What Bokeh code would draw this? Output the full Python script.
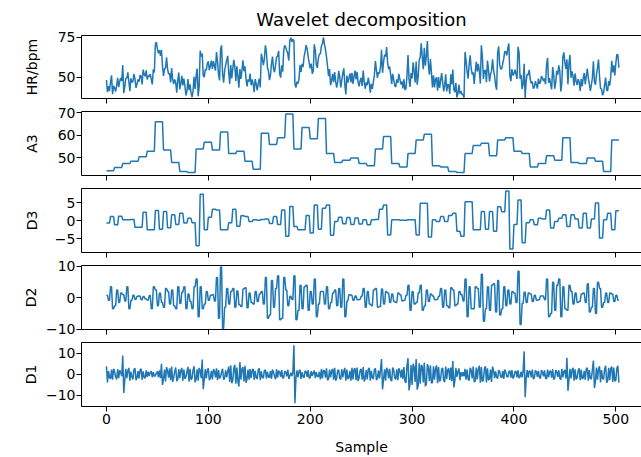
import numpy as np
from bokeh.plotting import figure
from bokeh.layouts import column
from bokeh.models import Range1d, FixedTicker, LinearAxis, CustomLabelingPolicy
from bokeh.embed import file_html
from bokeh.resources import INLINE

# ---------------- data ----------------
# level-3 approximation: one level per 8-sample block
A3_LEVELS = [44.3, 45.8, 47.5, 48.5, 50.5, 53.0, 66.0, 53.5, 48.0, 44.0,
             43.5, 54.0, 57.0, 53.5, 61.5, 52.0, 53.0, 48.5, 45.0, 61.0,
             56.0, 59.0, 69.5, 54.0, 63.5, 58.5, 67.5, 52.0, 48.0, 49.0,
             50.0, 47.5, 46.5, 54.0, 59.5, 47.5, 46.0, 52.0, 58.0, 60.5,
             46.5, 46.0, 44.0, 43.5, 52.0, 55.5, 56.5, 51.0, 58.0, 59.0,
             53.0, 52.0, 46.0, 47.5, 51.0, 49.0, 59.0, 48.0, 47.5, 50.0,
             48.5, 44.0, 58.0]
# level-3 detail: one value per 4-sample half block
D3_HALF = [-0.6, 1.2, -1.1, 1.3, 0.3, 0.3, 0.4, -1.8, -1.8, 2.4,
           -2.5, -2.5, 2.9, -2.3, 2.6, -1.9, 1.7, -1.0, 2.1, -0.6,
           0.7, -0.5, -6.9, 7.4, -2.5, 1.0, 3.2, 3.0, -2.5, -2.5,
           -0.5, 3.2, -1.5, 1.4, 1.2, -0.2, 0.3, 0.2, 0.4, 0.5,
           -0.7, 1.2, -1.0, 3.0, -4.3, 4.0, -1.6, -2.5, -2.5, 1.5,
           -3.4, 4.4, -2.3, 3.5, 4.4, -4.0, -0.2, 1.0, -0.8, 0.9,
           -1.0, 0.8, -0.9, 0.3, -1.1, 0.3, 0.4, 3.2, 4.4, -3.9,
           0.3, 0.3, 0.2, 0.2, 0.3, 0.3, -3.9, 4.9, 4.9, -4.5,
           0.3, -0.2, 1.2, -0.2, 1.5, 2.1, -2.9, -4.3, 5.3, 5.3,
           -2.5, -2.5, 2.6, -2.3, 2.6, -2.9, 3.9, 2.5, 8.3, -7.8,
           -1.0, 5.8, -6.1, -0.5, 0.3, -1.1, 0.7, 0.5, 3.0, -2.0,
           -0.2, 0.7, 1.7, -1.6, 1.7, 0.5, -2.0, 2.1, -2.0, 0.5,
           5.0, -4.8, 0.3, 2.1, -2.5, 2.8]
# level-2 detail coefficients (one per 4 samples: +d, +d, -d, -d)
D2_COEF = [0.8, 3.5, -2.5, -1.5, 1.0, 3.5, -0.8, -0.5, 0.6, 0.4,
           -0.7, -3.5, 2.5, 1.5, -3.0, 2.0, 2.5, -3.5, -1.8, 3.5,
           1.2, -3.5, 6.0, 3.5, -2.0, -0.8, 1.0, 6.5, 9.8, -3.0,
           -2.0, 3.0, 2.2, -2.8, 3.2, 1.5, -2.0, -1.2, 2.0, 6.5,
           -5.5, -3.0, 7.0, -6.5, 2.5, 0.5, 7.0, -4.0, -3.5, 4.0,
           2.0, 6.0, -2.0, 2.0, 3.5, -1.5, 2.5, 3.0, 6.0, -1.0,
           0.8, 0.6, -0.5, 3.0, 2.0, -2.5, 3.0, -2.8, -2.0, 1.5,
           1.2, -1.5, 1.0, -0.8, 4.0, 2.0, -1.5, 4.0, -2.5, -1.2,
           0.6, -0.5, 3.0, 2.5, -3.2, 2.5, -2.0, 1.0, 6.0, 3.5,
           -3.5, 3.0, 7.5, -3.5, -4.0, 4.5, 5.5, -3.5, -2.5, -2.0,
           1.5, 8.5, -1.8, -1.5, 1.2, 0.8, -0.6, 0.6, 6.0, -5.0,
           -4.0, 6.0, 3.5, -4.0, 2.0, 1.5, -1.2, 1.5, 4.5, -3.0,
           -5.0, 3.0, -1.5, -1.5, 1.2, 0.8]
# level-1 detail coefficients (one per 2 samples: +d, -d)
D1_COEF = [3.8, 1.5, -2.2, -2.6, 1.2, -2.4, -1.8, 0.9,
           8.8,
           -2.6, -1.8, 3.0, 1.2, -2.4, 2.8, -1.5, -2.0, 2.6, 1.4, -1.9,
           -1.2, -0.8, 1.5, 1.0, -0.6,
           1.4, 1.8,
           5.0,
           -2.2, -3.4, 1.6, 2.8, 3.6, -1.4, 3.2, -2.4, -1.8, 3.0, 2.2, -1.3,
           3.5, 2.6, -1.9, 3.8, -2.4, -3.0, 1.8,
           7.0,
           -2.4, -2.0, 2.8, -1.6, -2.4, 1.5, 2.8, 2.0, -1.2, 2.6, -1.8, -1.4,
           3.6, 4.2, -2.8, 4.5, 3.2, -5.8, -2.6, 3.4, 4.0, -2.2,
           -2.5, -1.8, 2.6, 1.6, -2.2, 2.8, 1.4, -1.8,
           2.0, 1.2, -1.6, -2.2, 1.0, -2.4, -1.6, 1.2, 2.0, -1.5, 1.0, 2.2, -0.8, -0.8,
           13.7,
           -1.8, -1.4, 2.2, 1.0, -1.6, 1.2, 2.0, -1.5, -0.8, 1.8, 1.0, -1.2,
           -2.4, -2.0, 1.6, 2.8, -2.2, -1.5, 2.6, 3.0, -1.8, 2.0, -2.4, -1.4, 3.0, 2.2, -1.6,
           -3.0, -2.4, 2.8, 3.2, -1.8, 2.6, 3.4, -2.0, -2.4, 3.0, 1.6, -2.2, 2.8, -1.8, -2.0,
           7.2,
           -2.4, -3.0, 2.0, 2.6, -3.2, 1.8, -2.4, -2.8, 1.6, 2.2,
           3.4, -4.0,
           7.6,
           -4.4, -5.0, 3.6, 7.2, -5.2, -4.4, 3.8, 5.6, -4.8, 3.2, 4.2,
           -3.8, -2.6, 4.2, 3.4, -2.4, 3.0, -3.6, -2.2, 2.8, 3.2,
           6.2,
           -3.0, -1.2, 2.8, 1.0, 1.0, 2.6, 2.2, -3.0, 2.0,
           3.6, -3.2, -2.4, 4.0, 3.4, -2.6, 3.8, 2.8, -2.2, -3.6,
           1.8, 1.4, -2.0, 1.2, -1.6, -2.2, 1.0, -1.4, 1.6, 2.0, -1.2, 1.5, 1.8, -1.2,
           -1.5, 10.8,
           -2.0, -1.6, 1.4, 2.2, -1.8, 1.2, 1.6, -2.0, 1.0,
           1.8, -2.2, -1.4, 1.6, 2.4, -2.0, 1.2, 1.8, -2.6, -1.4, 2.0,
           7.8,
           -2.6, -2.0, 3.0, 2.4, -1.8, 2.8, 2.2, -1.6, -2.6, 3.0, 2.0, -2.2,
           6.5,
           -3.2, -2.6, 3.8, 2.0, -2.4, 4.0, -3.0, -2.8, 3.6, 3.2, -2.8, 4.0]

X_TICKS = [0, 100, 200, 300, 400, 500]
PANEL_NAMES = ["HR/bpm", "A3", "D3", "D2", "D1"]
PANEL_TICKS = [[50, 75], [50, 60, 70], [-5, 0, 5], [-10, 0, 10], [-10, 0, 10]]
TITLE = "Wavelet decomposition"
XLABEL = "Sample"

# ---------------- expand the coefficients into sample series ----------------
a3 = np.repeat(np.array(A3_LEVELS), 8)
d3 = np.repeat(np.array(D3_HALF), 4)
c2 = np.array(D2_COEF)
d2 = np.repeat(np.column_stack([c2, -c2]).ravel(), 2)
c1 = np.array(D1_COEF)
d1 = np.column_stack([c1, -c1]).ravel()
n = min(len(a3), len(d3), len(d2), len(d1))
a3, d3, d2, d1 = a3[:n], d3[:n], d2[:n], d1[:n]
hr = a3 + d3 + d2 + d1
samples = np.arange(n)

series = [hr, a3, d3, d2, d1]
y_ranges = [(36.7, 76.2), (42.2, 70.6), (-8.8, 9.0), (-10.1, 10.3), (-15.2, 15.0)]
label_standoffs = [15, 15, 12, 4, 4]

FONT = "DejaVu Sans"
BLUE = "#1f77b4"
x_range = Range1d(-24.5, 525.2)
hide_all = CustomLabelingPolicy(code="for (const i of indices) { indices.unset(i) }\nreturn indices")


def minus(v):
    return ("\u2212" + str(abs(v))) if v < 0 else str(v)


figs = []
last_i = len(PANEL_NAMES) - 1
for i, (name, ys, yr, yt, lso) in enumerate(zip(PANEL_NAMES, series, y_ranges,
                                                PANEL_TICKS, label_standoffs)):
    first, last = i == 0, i == last_i
    top = 34 if first else 6
    bottom = 51 if last else 7
    p = figure(width=641, height=top + 64 + bottom, x_range=x_range,
               y_range=Range1d(*yr), output_backend="svg", toolbar_location=None,
               min_border_left=81, min_border_right=0, min_border_top=top,
               min_border_bottom=bottom, outline_line_color=None,
               background_fill_color="white", border_fill_color="white")
    p.grid.visible = False
    p.line(samples, ys, line_color=BLUE, line_width=1.5)

    for ax in (p.xaxis[0], p.yaxis[0]):
        ax.axis_line_color = "black"
        ax.axis_line_width = 1
        ax.major_tick_line_color = "black"
        ax.major_tick_out = 5
        ax.major_tick_in = 0
        ax.minor_tick_line_color = None
        ax.major_label_text_font = FONT
        ax.major_label_text_font_size = "14px"
        ax.major_label_text_color = "black"

    p.xaxis.ticker = FixedTicker(ticks=X_TICKS)
    p.yaxis.ticker = FixedTicker(ticks=yt)
    p.yaxis.major_label_overrides = {v: minus(v) for v in yt}
    p.yaxis.major_label_standoff = 1
    p.yaxis.axis_label = name
    p.yaxis.axis_label_text_font = FONT
    p.yaxis.axis_label_text_font_size = "14px"
    p.yaxis.axis_label_text_font_style = "normal"
    p.yaxis.axis_label_text_color = "black"
    p.yaxis.axis_label_standoff = lso
    if last:
        p.xaxis.major_label_standoff = 2
        p.xaxis.axis_label = XLABEL
        p.xaxis.axis_label_text_font = FONT
        p.xaxis.axis_label_text_font_size = "14px"
        p.xaxis.axis_label_text_font_style = "normal"
        p.xaxis.axis_label_text_color = "black"
        p.xaxis.axis_label_standoff = 12
    else:
        p.xaxis.major_label_text_font_size = "0px"
        p.xaxis.major_label_standoff = 0
        p.xaxis.major_label_policy = hide_all

    top_ax = LinearAxis(ticker=FixedTicker(ticks=[]), major_tick_out=0,
                        major_tick_in=0, minor_tick_out=0, minor_tick_in=0,
                        major_label_text_font_size="0px", major_label_standoff=0,
                        axis_line_color="black", axis_line_width=1)
    p.add_layout(top_ax, "above")

    if first:
        p.title.text = TITLE
        p.title.align = "center"
        p.title.text_font = FONT
        p.title.text_font_size = "18px"
        p.title.text_font_style = "normal"
        p.title.text_color = "black"
        p.title.standoff = 12
    figs.append(p)

layout = column(*figs, spacing=0)
open("out.html", "w").write(file_html(layout, INLINE))
